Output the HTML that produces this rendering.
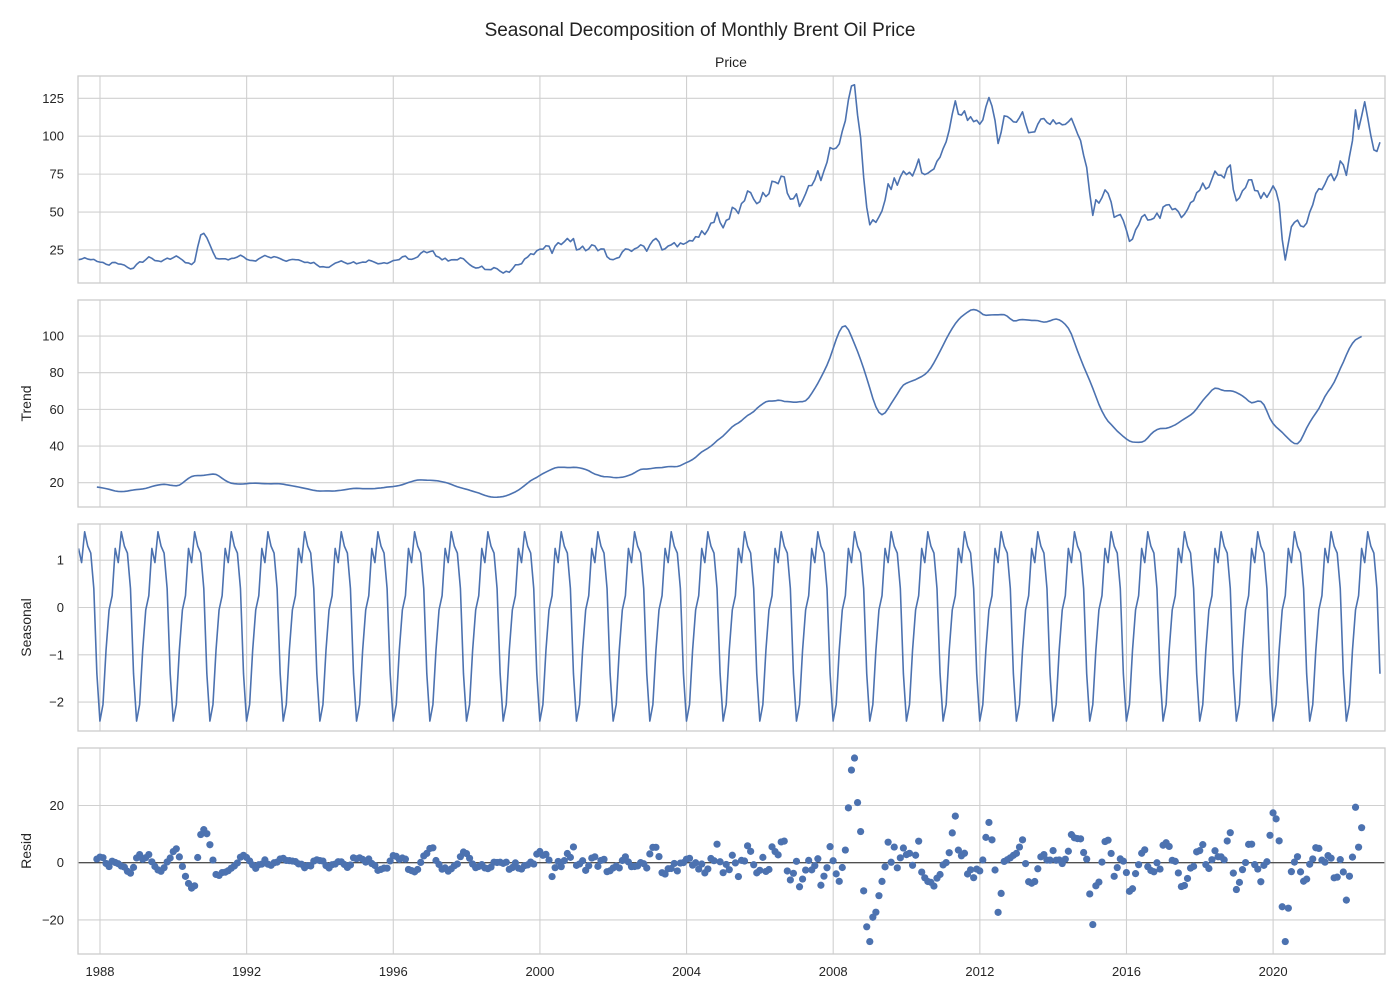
<!DOCTYPE html>
<html><head><meta charset="utf-8">
<style>
html,body{margin:0;padding:0;background:#fff;}
svg{display:block;font-family:"Liberation Sans","DejaVu Sans",sans-serif;}
</style></head>
<body>
<svg id="chart" width="1400" height="1000" viewBox="0 0 1400 1000">
<text x="700" y="36" text-anchor="middle" font-size="19" fill="#222">Seasonal Decomposition of Monthly Brent Oil Price</text>
<text x="731" y="67" text-anchor="middle" font-size="14" fill="#222">Price</text>
</svg>
<script>
// Monthly Brent price, May 1987 .. Nov 2022
const price = [
18.6,19.0,19.9,19.0,18.6,18.8,17.5,17.0,
16.8,15.6,15.0,16.7,16.8,15.8,15.6,15.0,13.6,12.5,13.0,15.5,
17.2,16.9,18.6,20.5,19.5,18.0,17.8,17.3,18.5,19.6,18.9,19.9,
21.1,19.8,18.4,16.6,16.4,15.4,17.3,27.0,34.9,36.0,33.0,28.4,
23.6,19.5,19.1,19.2,19.2,18.5,19.4,19.6,20.4,21.6,20.5,18.9,
18.2,18.0,17.7,19.2,20.3,21.4,20.5,19.8,20.6,20.1,19.3,18.3,
17.6,18.4,18.8,18.6,18.5,17.7,16.8,16.9,16.2,16.8,15.2,13.8,
14.0,13.6,13.6,15.0,16.3,17.0,17.8,16.8,15.9,16.3,17.2,15.9,
16.5,17.0,16.9,18.3,17.7,16.8,15.9,16.1,16.6,16.1,17.0,18.0,
18.3,18.7,20.5,21.0,19.0,18.8,19.5,20.4,22.8,24.2,23.2,23.9,
24.4,21.0,20.2,18.5,19.6,17.7,18.5,18.6,18.5,19.8,19.2,17.2,
15.4,14.0,13.1,13.3,14.3,12.2,12.1,12.0,13.4,12.6,11.0,9.8,
11.0,10.3,12.5,15.2,15.3,15.9,19.0,20.3,22.5,22.0,24.5,25.5,
25.5,27.8,27.5,22.8,27.6,29.8,28.6,30.4,32.6,30.5,32.5,25.0,
25.6,27.5,24.5,25.7,28.4,27.7,24.5,25.7,25.6,20.5,18.9,18.6,
19.5,20.1,23.7,25.7,25.4,24.1,25.7,26.6,28.4,27.5,24.2,28.3,
31.2,32.6,30.3,25.0,25.8,27.6,28.4,29.8,27.1,29.6,28.8,29.8,
31.2,30.9,33.8,33.4,37.6,35.2,38.2,42.7,43.2,49.8,43.1,39.6,
44.5,45.5,53.1,51.9,49.0,55.6,57.5,63.9,62.8,58.5,55.5,56.8,
62.9,60.2,62.1,70.3,69.8,68.7,73.7,73.2,62.5,58.5,58.8,62.0,
53.7,57.6,62.1,67.4,67.5,71.3,77.2,70.8,77.1,82.8,92.5,91.5,
92.2,94.9,103.3,110.2,123.9,133.1,133.9,113.9,99.1,72.8,53.2,41.6,
44.9,43.2,46.8,50.8,57.9,68.6,64.9,72.5,67.7,73.2,77.0,74.7,
76.2,73.8,78.8,84.9,75.9,74.7,75.6,77.1,78.4,83.5,86.2,91.8,
96.3,104.0,114.6,123.3,114.5,113.9,116.7,110.4,112.8,109.6,110.5,107.9,
110.7,119.3,125.5,119.8,110.3,95.2,102.6,113.4,113.0,111.5,109.5,109.2,
112.3,116.1,108.5,102.3,102.6,102.9,107.9,111.3,111.6,109.1,107.8,110.8,
108.1,108.9,107.5,107.8,109.5,111.8,106.8,101.6,97.1,87.4,79.4,62.3,
47.8,58.1,55.9,59.5,64.6,62.3,56.6,46.5,47.6,48.4,44.3,38.0,
30.7,32.2,38.2,41.6,46.7,48.3,44.7,45.0,45.9,49.3,45.9,53.3,
54.6,54.9,51.6,52.3,50.3,46.4,48.5,51.7,56.2,57.5,62.7,64.4,
69.1,65.2,66.5,71.8,77.0,74.4,74.3,72.5,78.9,81.0,64.8,57.4,
59.4,64.0,66.1,71.2,71.3,64.2,63.9,59.0,62.8,59.7,63.2,67.3,
63.7,55.7,32.0,18.4,29.4,40.3,43.2,44.7,40.9,40.2,42.7,49.9,
54.8,62.3,65.4,64.8,68.5,73.1,75.2,70.8,74.5,83.7,81.1,74.2,
86.5,97.1,117.3,104.6,113.3,122.7,111.9,100.5,91.0,90.0,96.0
];
// Seasonal component by calendar month (Jan..Dec)
const seasonalByMonth = [-2.05,-0.9,-0.05,0.25,1.25,0.95,1.6,1.3,1.15,0.4,-1.4,-2.4];
const startYear = 1987, startMonth = 5;
const xTickYears = [1988,1992,1996,2000,2004,2008,2012,2016,2020];
const priceTicks = [25,50,75,100,125];
const trendTicks = [20,40,60,80,100];
const seasonalTicks = [-2,-1,0,1];
const residTicks = [-20,0,20];
</script>
<script>
const NS = "http://www.w3.org/2000/svg";
const svg = document.getElementById('chart');
const X0 = 78, X1 = 1385;
function xScale(t){ return 100 + (t - 1988) * 36.66; }
function mk(tag, attrs, parent){
  const e = document.createElementNS(NS, tag);
  for (const k in attrs) e.setAttribute(k, attrs[k]);
  (parent || svg).appendChild(e);
  return e;
}
const N = price.length;
const times = [], months = [];
for (let i = 0; i < N; i++) {
  const m0 = (startMonth - 1) + i;
  const y = startYear + Math.floor(m0 / 12), m = m0 % 12;
  months.push(m);
  times.push(y + (m + 1) / 12 - 0.002);
}
const trend = price.map((v, i) => {
  if (i < 6 || i > N - 7) return null;
  let s = 0.5 * price[i - 6] + 0.5 * price[i + 6];
  for (let k = -5; k <= 5; k++) s += price[i + k];
  return s / 12;
});
const seasonal = months.map(m => seasonalByMonth[m]);
const resid = price.map((v, i) => trend[i] === null ? null : v - trend[i] - seasonal[i]);

const panels = [
  {name:'price', top:76, h:207, ticks:priceTicks, y:v=>287.9 - v*1.517, data:price, label:null},
  {name:'trend', top:300, h:207, ticks:trendTicks, y:v=>482.7 - (v-20)*1.833, data:trend, label:'Trend'},
  {name:'seasonal', top:524, h:207, ticks:seasonalTicks, y:v=>607.5 - v*47.3, data:seasonal, label:'Seasonal'},
  {name:'resid', top:748, h:206, ticks:residTicks, y:v=>862.7 - v*2.86, data:resid, label:'Resid'}
];
panels.forEach((p, pi) => {
  const g = mk('g', {});
  
  
  const clipId = 'clip' + pi;
  const cp = mk('clipPath', {id: clipId}, g);
  mk('rect', {x: X0, y: p.top, width: X1 - X0, height: p.h}, cp);
  xTickYears.forEach(yr => {
    const gx = xScale(yr);
    const l = mk('line', {x1: gx, x2: gx, y1: p.top, y2: p.top + p.h, stroke: '#d0d0d0', 'stroke-width': 1.1}, g);
    
    
  });
  p.ticks.forEach(tv => {
    const ty = p.y(tv);
    const l = mk('line', {x1: X0, x2: X1, y1: ty, y2: ty, stroke: '#d0d0d0', 'stroke-width': 1.1}, g);
    
    
    const t = mk('text', {x: 64, y: ty + 4.5, 'text-anchor': 'end', 'font-size': 13, fill: '#262626'}, g);
    t.textContent = tv < 0 ? '\u2212' + Math.abs(tv) : String(tv);
    
    
  });
  if (p.label) {
    const cy = p.top + p.h / 2;
    const t = mk('text', {x: 0, y: 0, transform: 'translate(31,' + cy + ') rotate(-90)', 'text-anchor': 'middle', 'font-size': 14, fill: '#262626'}, g);
    t.textContent = p.label;
    
    
  }
  const dg = mk('g', {'clip-path': 'url(#' + clipId + ')'}, g);
  if (p.name === 'resid') {
    const zl = mk('line', {x1: X0, x2: X1, y1: p.y(0), y2: p.y(0), stroke: '#222', 'stroke-width': 1}, dg);
    
    
    p.data.forEach((v, i) => {
      if (v === null) return;
      const c = mk('circle', {cx: xScale(times[i]), cy: p.y(v), r: 3.6, fill: '#4c72b0'}, dg);
      
      
    });
  } else {
    let d = '';
    p.data.forEach((v, i) => {
      if (v === null) return;
      d += (d ? 'L' : 'M') + xScale(times[i]).toFixed(2) + ',' + p.y(v).toFixed(2);
    });
    const path = mk('path', {d: d, fill: 'none', stroke: '#4c72b0', 'stroke-width': 1.6, 'stroke-linejoin': 'round'}, dg);
    
    
  }
  const fr = mk('rect', {x: X0, y: p.top, width: X1 - X0, height: p.h, fill: 'none', stroke: '#cccccc', 'stroke-width': 1.3}, g);
  
  
  if (pi === 3) {
    xTickYears.forEach(yr => {
      const t = mk('text', {x: xScale(yr), y: 976, 'text-anchor': 'middle', 'font-size': 13, fill: '#262626'}, g);
      t.textContent = String(yr);
      
      
    });
  }
});
</script>
</body></html>
